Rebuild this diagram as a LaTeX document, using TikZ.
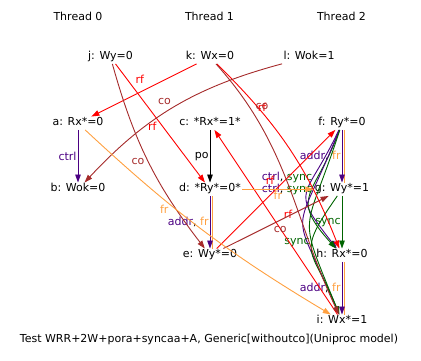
\documentclass[tikz,border=0pt]{standalone}
\usepackage{fontspec}
\setmainfont{DejaVu Sans}
\usepackage{tikz}
\usetikzlibrary{positioning,arrows.meta}
\definecolor{rfcol}{RGB}{255,0,0}
\definecolor{cocol}{RGB}{165,42,42}
\definecolor{depcol}{RGB}{75,0,130}
\definecolor{frcol}{RGB}{255,160,64}
\definecolor{synccol}{RGB}{0,100,0}

\begin{document}
\begin{tikzpicture}[x=1pt, y=1pt, node distance={66pt}, line width=0.9pt,
  font=\fontsize{11}{13}\selectfont,
  ev/.style = {inner sep=1pt, text height=8pt, text depth=2.5pt},
  title/.style = {anchor=base},
  lbl/.style = {inner sep=1pt},
  tip/.style = {-{Triangle[length=8pt,width=5.5pt]}},
  rfarr/.style = {tip, rfcol},
  coarr/.style = {tip, cocol},
  deparr/.style = {tip, depcol},
  frarr/.style = {tip, frcol},
  syncarr/.style = {tip, synccol},
  poarr/.style = {tip, black}]
  \useasboundingbox (0,0) rectangle (421,361);

  \node[title] (t0) at (78,340) {Thread 0};
  \node[title] (t1) at (209.5,340) {Thread 1};
  \node[title] (t2) at (341.5,340) {Thread 2};

  \node[ev] (j) at (110.5,303.75) {j: Wy=0};
  \node[ev] (k) at (210,303.75) {k: Wx=0};
  \node[ev] (l) at (309,303.75) {l: Wok=1};

  \node[ev] (a) at (78,237.75) {a: Rx*=0};
  \node[ev] (b) [below of=a] {b: Wok=0};
  \node[ev] (c) at (210,237.75) {c: *Rx*=1*};
  \node[ev] (d) [below of=c] {d: *Ry*=0*};
  \node[ev] (e) [below of=d] {e: Wy*=0};
  \node[ev] (f) at (342,237.75) {f: Ry*=0};
  \node[ev] (g) [below of=f] {g: Wy*=1};
  \node[ev] (h) [below of=g] {h: Rx*=0};
  \node[ev] (i) [below of=h] {i: Wx*=1};

  \node[title] (cap) at (209,18) {Test WRR+2W+pora+syncaa+A, Generic[withoutco](Uniproc model)};

  % program order and dependencies
  \draw[deparr] (a) -- node[lbl, midway, left] {ctrl} (b);
  \draw[poarr] (c) -- node[lbl, midway, left] {po} (d);
  \draw[frcol] ([xshift=2.2pt]d.south) -- ([xshift=2.2pt]e.north);
  \draw[deparr] (d) -- node[lbl, midway, left, text=black] {\textcolor{depcol}{addr}, \textcolor{frcol}{fr}} (e);
  \draw[frcol] ([xshift=2.2pt]f.south) -- ([xshift=2.2pt]g.north);
  \draw[deparr] (f) -- node[lbl, midway, left, text=black] {\textcolor{depcol}{addr}, \textcolor{frcol}{fr}} (g);
  \draw[syncarr] (g) -- node[lbl, midway, left] {sync} (h);
  \draw[frcol] ([xshift=2.2pt]h.south) -- ([xshift=2.2pt]i.north);
  \draw[deparr] (h) -- node[lbl, midway, left, text=black] {\textcolor{depcol}{addr}, \textcolor{frcol}{fr}} (i);

  % derived ctrl / sync
  \draw[deparr] (f) to[out=245, in=128, looseness=1.7] (h)
    node[lbl, text=black] at (287,184) {\textcolor{depcol}{ctrl}, \textcolor{synccol}{sync}};
  \draw[syncarr] (f) to[out=250, in=132, looseness=1.55] (h);
  \draw[deparr] (f) to[out=248, in=113, looseness=1.75] (i)
    node[lbl, text=black] at (287,172) {\textcolor{depcol}{ctrl}, \textcolor{synccol}{sync}};
  \draw[syncarr] (f) to[out=252, in=112, looseness=1.6] (i);
  \draw[syncarr] (g) to[out=235, in=112, looseness=1.6] (i)
    node[lbl] at (297,118) {sync};

  % rf
  \draw[rfarr] (k) -- node[lbl, pos=0.54, above=7pt] {rf} (a);
  \draw[rfarr] (j) -- node[lbl, pos=0.53, left=5pt] {rf} (d);
  \draw[rfarr] (k) to[bend left=12] (h) node[lbl] at (262,254) {rf};
  \draw[rfarr] (e) -- (f) node[lbl] at (270,181) {rf};
  \draw[rfarr] (i) -- (c) node[lbl] at (288,147) {rf};

  % co
  \draw[coarr] (l) to[bend right=16] node[lbl, midway, above left=2pt] {co} (b);
  \draw[coarr] (j) to[bend right=11] node[lbl, midway, left=2.5pt] {co} (e);
  \draw[coarr] (k) to[out=-48, in=115] (i) node[lbl] at (262,254) {co};
  \draw[coarr] (e) -- node[lbl, pos=0.54, below=5pt] {co} (g);

  % fr
  \draw[frarr] (a) to[bend right=6] node[lbl, pos=0.33, below=4pt] {fr} (i);
  \draw[frarr] (d) -- node[lbl, midway, below] {fr} (g);
\end{tikzpicture}
\end{document}
